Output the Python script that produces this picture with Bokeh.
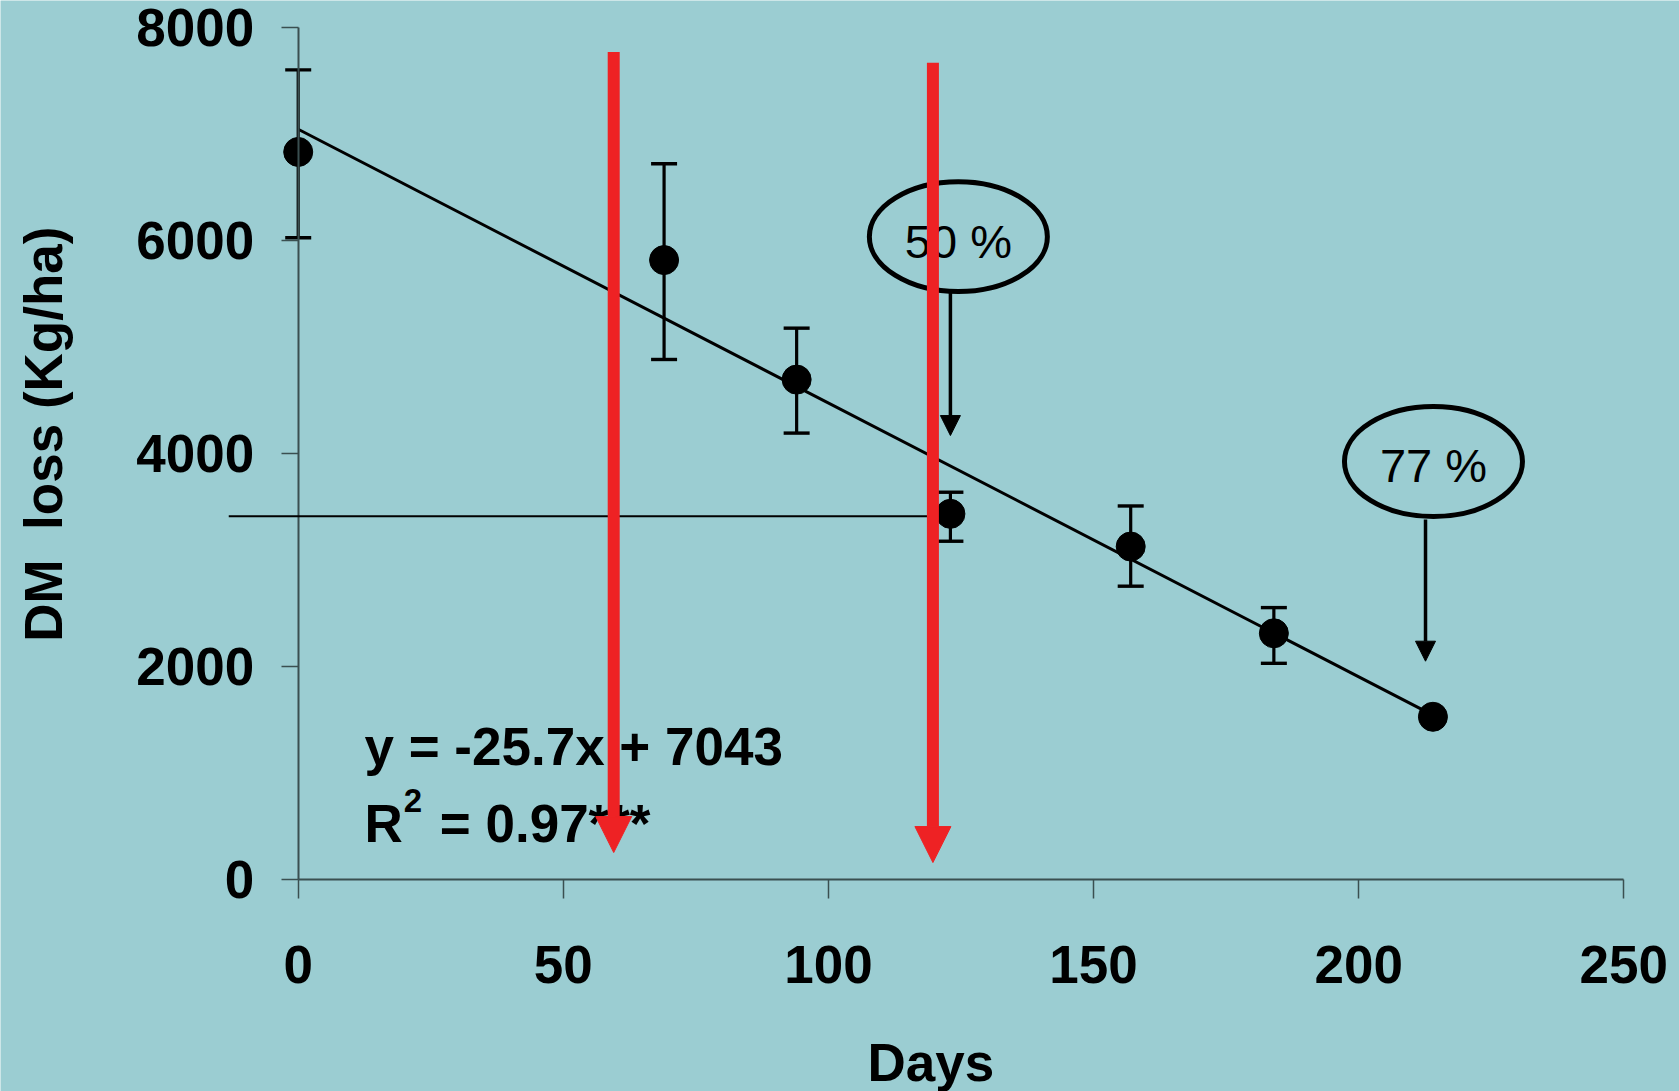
from bokeh.plotting import figure
from bokeh.models import (Arrow, NormalHead, TeeHead, Label, Whisker,
                          ColumnDataSource, FixedTicker)
from bokeh.embed import file_html
from bokeh.resources import INLINE

# ---- data ----
days = [0, 69, 94, 123, 157, 184, 214]
dm_loss = [6830, 5815, 4693, 3433, 3126, 2312, 1528]

err_days = [0, 69, 94, 123, 157, 184]
err_upper = [7600, 6719, 5176, 3636, 3507, 2553]
err_lower = [6025, 4882, 4191, 3176, 2754, 2030]

fit_slope = -25.7
fit_intercept = 7043

x_ticks = [0, 50, 100, 150, 200, 250]
y_ticks = [0, 2000, 4000, 6000, 8000]

x_title = "Days"
y_title = "DM\u00a0 loss (Kg/ha)"

# red arrows (day, start loss, tip loss)
red_days = [59.5, 119.7]
red_top = [7769, 7668]
red_tip = [254, 160]

# callouts
callout_text = ["50 %", "77 %"]
callout_x = [124.5, 214.1]
callout_y = [6035, 3924]
callout_text_y = [5985, 3890]
callout_arrow_x = [123.0, 212.6]
callout_arrow_top = [5509, 3380]
callout_arrow_tip = [4168, 2050]

half_loss = 3411
half_line_x = [-13.1, 119.7]

BG = "#9BCDD2"
RED = "#EE2224"
FONT = "Liberation Sans"

# the frame fills the whole canvas; axes sit at fixed data locations
p = figure(width=1679, height=1091, x_range=(-56.145, 260.5), y_range=(-1989, 8251.5),
           output_backend="svg", toolbar_location=None,
           min_border_left=0, min_border_right=0,
           min_border_top=0, min_border_bottom=0)
p.background_fill_color = BG
p.border_fill_color = BG
p.outline_line_color = None
p.xgrid.visible = False
p.ygrid.visible = False

for ax in (p.xaxis[0], p.yaxis[0]):
    ax.axis_line_color = "#3a4f50"
    ax.axis_line_width = 2
    ax.major_tick_line_color = "#3a4f50"
    ax.major_tick_line_width = 1.5
    ax.minor_tick_line_color = None
    ax.major_tick_in = 0
    ax.major_label_text_font = FONT
    ax.major_label_text_font_style = "bold"
    ax.major_label_text_font_size = "53px"
    ax.major_label_text_color = "black"

p.xaxis.ticker = FixedTicker(ticks=x_ticks)
p.yaxis.ticker = FixedTicker(ticks=y_ticks)
p.xaxis.fixed_location = 0
p.yaxis.fixed_location = 0
p.xaxis.bounds = (0, 250)
p.yaxis.bounds = (0, 8000)
p.xaxis.major_tick_out = 19
p.xaxis.major_label_standoff = 47
p.yaxis.major_tick_out = 17
p.yaxis.major_label_standoff = 27

# axis titles, placed where the reference has them
p.add_layout(Label(x=119.3, y=-1716, text=x_title, text_align="center", text_baseline="middle",
                   text_font=FONT, text_font_style="bold", text_font_size="53px", text_color="black"))
p.add_layout(Label(x=-48.1, y=4181, text=y_title, angle=90, angle_units="deg",
                   text_align="center", text_baseline="middle",
                   text_font=FONT, text_font_style="bold", text_font_size="53px", text_color="black"))

# regression line
fit_x = [days[0], days[-1]]
fit_y = [fit_slope * x + fit_intercept for x in fit_x]
p.line(fit_x, fit_y, line_color="black", line_width=3)

# points
p.scatter(days, dm_loss, size=29, marker="circle", fill_color="black", line_color="black")

# error bars
err_src = ColumnDataSource(dict(x=err_days, upper=err_upper, lower=err_lower))
p.add_layout(Whisker(source=err_src, base="x", upper="upper", lower="lower",
                     dimension="height", line_color="black", line_width=3.2,
                     upper_head=TeeHead(size=26, line_width=3.4, line_color="black"),
                     lower_head=TeeHead(size=26, line_width=3.4, line_color="black")))

# callout ellipses
p.ellipse(callout_x, callout_y, width=178, height=110, width_units="screen",
          height_units="screen", fill_color=None, line_color="black", line_width=5)

for t, x, y in zip(callout_text, callout_x, callout_text_y):
    p.add_layout(Label(x=x, y=y, text=t, text_align="center", text_baseline="middle",
                       text_font=FONT, text_font_size="47px", text_color="black"))

for x, y0, y1 in zip(callout_arrow_x, callout_arrow_top, callout_arrow_tip):
    p.add_layout(Arrow(x_start=x, y_start=y0, x_end=x, y_end=y1,
                       line_color="black", line_width=3.5,
                       end=NormalHead(size=20, fill_color="black", line_color="black", line_width=1)))

# horizontal reference line
p.add_layout(Arrow(x_start=half_line_x[0], y_start=half_loss, x_end=half_line_x[1], y_end=half_loss,
                   line_color="black", line_width=2, start=None, end=None))

# equation text
p.add_layout(Label(x=12.5, y=1251, text="y = -25.7x + 7043", text_baseline="middle",
                   text_font=FONT, text_font_style="bold", text_font_size="53px", text_color="black"))
p.add_layout(Label(x=12.5, y=527, text="R", text_baseline="middle",
                   text_font=FONT, text_font_style="bold", text_font_size="53px", text_color="black"))
p.add_layout(Label(x=19.9, y=745, text="2", text_baseline="middle",
                   text_font=FONT, text_font_style="bold", text_font_size="33px", text_color="black"))
p.add_layout(Label(x=26.7, y=527, text="= 0.97***", text_baseline="middle",
                   text_font=FONT, text_font_style="bold", text_font_size="53px", text_color="black"))

# red arrows
for x, y0, y1 in zip(red_days, red_top, red_tip):
    p.add_layout(Arrow(x_start=x, y_start=y0, x_end=x, y_end=y1,
                       line_color=RED, line_width=12,
                       end=NormalHead(size=36, fill_color=RED, line_color=RED, line_width=1)))

open("out.html", "w").write(file_html(p, INLINE))
